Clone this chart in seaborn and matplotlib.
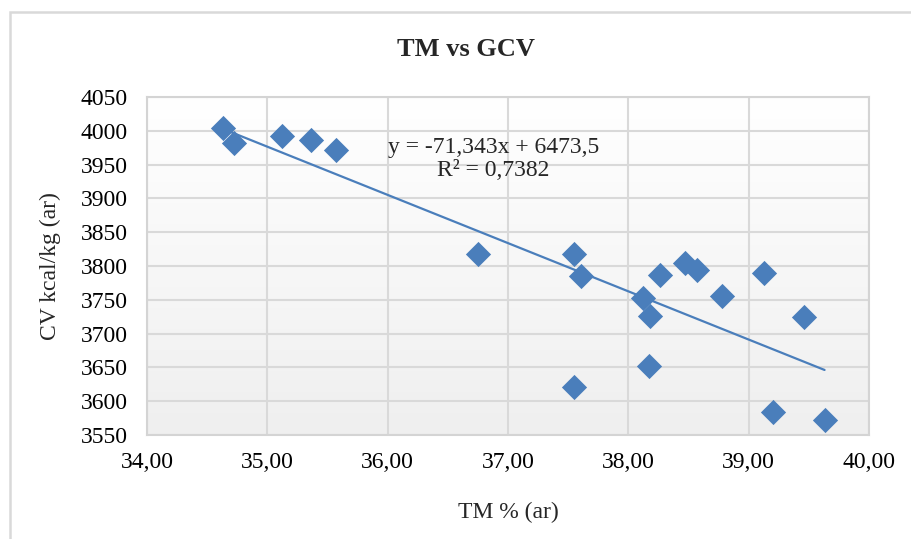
import numpy as np
import pandas as pd
import seaborn as sns
import matplotlib.pyplot as plt
from matplotlib.patches import Rectangle
from matplotlib.colors import LinearSegmentedColormap

# values
tm = [34.63, 34.72, 35.12, 35.36, 35.57, 36.75, 37.55, 37.61, 37.55, 38.12,
      38.18, 38.17, 38.26, 38.47, 38.57, 38.78, 39.13, 39.46, 39.20, 39.63]
gcv = [4004, 3982, 3993, 3987, 3971, 3818, 3818, 3785, 3621, 3753,
       3726, 3652, 3786, 3805, 3794, 3755, 3789, 3725, 3584, 3572]
slope = -71.343
intercept = 6473.5
r2 = 0.7382

x_ticks = [34, 35, 36, 37, 38, 39, 40]
y_ticks = list(range(3550, 4051, 50))

df = pd.DataFrame({'TM': tm, 'GCV': gcv})

sns.set_theme(style='white')
plt.rcParams['font.family'] = ['Liberation Serif', 'DejaVu Serif']

fig = plt.figure(figsize=(9.11, 5.39), dpi=100)
ax = fig.add_axes([0.1614, 0.193, 0.7926, 0.627])

# outer chart border
fig.patches.append(Rectangle((10 / 911, -0.05), 1.1, 1.05 - 12 / 539,
                             transform=fig.transFigure, fill=False,
                             edgecolor='#d9d9d9', linewidth=1.8))

# plot area gradient, white at top to light grey at bottom
grad = np.linspace(0, 1, 256).reshape(-1, 1)
cmap = LinearSegmentedColormap.from_list('g', ['#efefef', '#ffffff'])
ax.imshow(grad, cmap=cmap, aspect='auto', extent=[34, 40, 3550, 4050],
          zorder=0, origin='lower')

sns.scatterplot(data=df, x='TM', y='GCV', marker='D', s=165, color='#4a7ebb',
                edgecolor='#4a7ebb', linewidth=0, ax=ax, zorder=3)

xs = np.array([min(tm), max(tm)])
ax.plot(xs, slope * xs + intercept, color='#4a7ebb', linewidth=1.6, zorder=2)

ax.set_xlim(34, 40)
ax.set_ylim(3550, 4050)
ax.set_xticks(x_ticks)
ax.set_yticks(y_ticks)
ax.set_xticklabels([f'{v:.2f}'.replace('.', ',') for v in x_ticks])
ax.set_yticklabels([str(v) for v in y_ticks])
ax.tick_params(labelsize=17, length=0, colors='black')
ax.tick_params(axis='x', pad=12)
ax.tick_params(axis='y', pad=14)
ax.grid(True, color='#d9d9d9', linewidth=1.5, zorder=1)
ax.set_axisbelow(True)
for sp in ax.spines.values():
    sp.set_color('#d4d4d4')
    sp.set_linewidth(1.5)

ax.set_xlabel('TM % (ar)', fontsize=17, labelpad=21)
ax.set_ylabel('CV kcal/kg (ar)', fontsize=17, labelpad=14)
fig.text(466 / 911, 1 - 50 / 539, 'TM vs GCV', ha='center', va='center',
         fontsize=19, fontweight='bold')

eq = f'y = {slope:.3f}x + {intercept:.1f}'.replace('.', ',')
r2txt = f'R² = {r2:.4f}'.replace('.', ',')
ax.text(36.88, 3958, eq + '\n' + r2txt, ha='center', va='center',
        fontsize=17, linespacing=1.1, zorder=4)

fig.savefig('out.png', dpi=100)
